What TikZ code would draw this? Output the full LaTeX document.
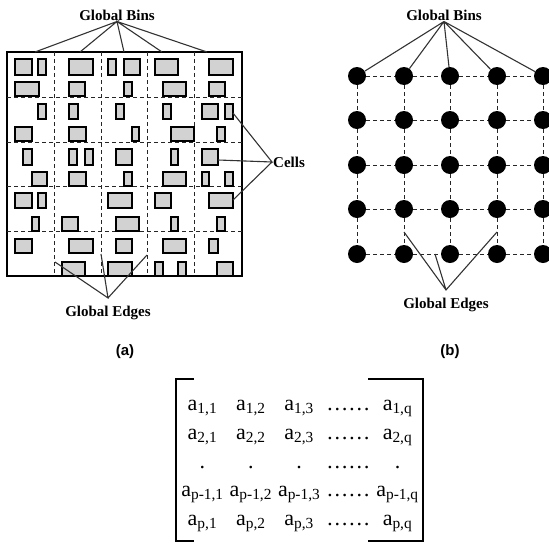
\documentclass[tikz,border=0pt]{standalone}
\usepackage{fontspec}
\setmainfont{Liberation Serif}
\newfontfamily\capfont{Liberation Sans}
\usetikzlibrary{matrix}

\begin{document}
\begin{tikzpicture}[
x=1pt, y=-1pt,
tag/.style={font=\bfseries\fontsize{15}{17}\selectfont, inner sep=1pt},
panel/.style={font=\capfont\bfseries\fontsize{15}{17}\selectfont},
cellbox/.style={draw=black, fill=gray!35, line width=1.5pt},
gridline/.style={gray!30!black, line width=0.9pt, dash pattern=on 4pt off 3pt},
leader/.style={black!80, line width=1.1pt},
binnode/.style={circle, fill=black, minimum size=18pt, inner sep=0pt},
bracket/.style={line width=2pt}
]
\useasboundingbox (0,0) rectangle (549,544);

% (a) placement with global bins
\node[draw, line width=1.6pt, minimum width=235pt, minimum height=224pt, inner sep=0pt] (chip) at (124.5,164) {};
\draw[gridline] (7,97) -- (242,97) (7,142) -- (242,142) (7,186) -- (242,186) (7,231) -- (242,231);
\draw[gridline] (54,52) -- (54,276) (101,52) -- (101,276) (147,52) -- (147,276) (194,52) -- (194,276);

\draw[cellbox] (15,59) rectangle (32,75) (38,59) rectangle (46,75) (69,59) rectangle (93,75) (108,59) rectangle (116,75) (124,59) rectangle (140,75) (155,59) rectangle (178,75) (209,59) rectangle (233,75);
\draw[cellbox] (15,82) rectangle (39,96) (69,82) rectangle (85,96) (124,82) rectangle (132,96) (163,82) rectangle (186,96) (209,82) rectangle (225,96);
\draw[cellbox] (38,104) rectangle (46,119) (69,104) rectangle (78,119) (116,104) rectangle (124,119) (163,104) rectangle (171,119) (202,104) rectangle (218,119) (225,104) rectangle (233,119);
\draw[cellbox] (15,127) rectangle (32,141) (69,127) rectangle (86,141) (132,127) rectangle (139,141) (171,127) rectangle (194,141) (217,127) rectangle (225,141);
\draw[cellbox] (23,149) rectangle (32,165) (69,149) rectangle (77,165) (85,149) rectangle (93,165) (116,149) rectangle (132,165) (171,149) rectangle (178,165) (202,149) rectangle (218,165);
\draw[cellbox] (32,172) rectangle (47,186) (69,172) rectangle (86,186) (124,172) rectangle (132,186) (163,172) rectangle (186,186) (202,172) rectangle (209,186) (225,172) rectangle (233,186);
\draw[cellbox] (15,193) rectangle (32,208) (38,193) rectangle (46,208) (108,193) rectangle (132,208) (155,193) rectangle (171,208) (209,193) rectangle (233,208);
\draw[cellbox] (32,217) rectangle (39,231) (62,217) rectangle (78,231) (116,217) rectangle (139,231) (171,217) rectangle (178,231) (217,217) rectangle (225,231);
\draw[cellbox] (15,239) rectangle (32,253) (69,239) rectangle (93,253) (116,239) rectangle (132,253) (163,239) rectangle (186,253) (209,239) rectangle (218,253);
\draw[cellbox] (62,262) rectangle (85,276) (108,262) rectangle (132,276) (155,262) rectangle (163,276) (178,262) rectangle (186,276) (217,262) rectangle (233,276);

\node[tag] (binsA) at (117,15) {Global Bins};
\node[tag, anchor=west] (cells) at (272,162) {Cells};
\node[tag] (edgesA) at (108,313) {Global Edges};
\node[panel] (capA) at (125,352) {(a)};

\coordinate (topA1) at (35,52);
\coordinate (topA2) at (80,52);
\coordinate (topA3) at (124,52);
\coordinate (topA4) at (162,52);
\coordinate (topA5) at (207,52);
\coordinate (cellA1) at (233,113);
\coordinate (cellA2) at (218,160);
\coordinate (cellA3) at (233,200);
\coordinate (edgeA1) at (55,262);
\coordinate (edgeA2) at (101,254);
\coordinate (edgeA3) at (147,255);

\draw[leader] (topA1) -- (binsA.south) -- (topA2) (topA3) -- (binsA.south) -- (topA4) (binsA.south) -- (topA5);
\draw[leader] (cellA1) -- (cells.west) -- (cellA2) (cells.west) -- (cellA3);
\draw[leader] (edgeA1) -- ([yshift=7pt]edgesA.north) -- (edgeA2) ([yshift=7pt]edgesA.north) -- (edgeA3);

% (b) bins as a graph
\node[binnode] (d11) at (357,76) {}; \node[binnode] (d12) at (404,76) {}; \node[binnode] (d13) at (450,76) {}; \node[binnode] (d14) at (497,76) {}; \node[binnode] (d15) at (543,76) {};
\node[binnode] (d21) at (357,120) {}; \node[binnode] (d22) at (404,120) {}; \node[binnode] (d23) at (450,120) {}; \node[binnode] (d24) at (497,120) {}; \node[binnode] (d25) at (543,120) {};
\node[binnode] (d31) at (357,165) {}; \node[binnode] (d32) at (404,165) {}; \node[binnode] (d33) at (450,165) {}; \node[binnode] (d34) at (497,165) {}; \node[binnode] (d35) at (543,165) {};
\node[binnode] (d41) at (357,209) {}; \node[binnode] (d42) at (404,209) {}; \node[binnode] (d43) at (450,209) {}; \node[binnode] (d44) at (497,209) {}; \node[binnode] (d45) at (543,209) {};
\node[binnode] (d51) at (357,254) {}; \node[binnode] (d52) at (404,254) {}; \node[binnode] (d53) at (450,254) {}; \node[binnode] (d54) at (497,254) {}; \node[binnode] (d55) at (543,254) {};

\draw[gridline] (d11) -- (d12) -- (d13) -- (d14) -- (d15);
\draw[gridline] (d21) -- (d22) -- (d23) -- (d24) -- (d25);
\draw[gridline] (d31) -- (d32) -- (d33) -- (d34) -- (d35);
\draw[gridline] (d41) -- (d42) -- (d43) -- (d44) -- (d45);
\draw[gridline] (d51) -- (d52) -- (d53) -- (d54) -- (d55);
\draw[gridline] (d11) -- (d21) -- (d31) -- (d41) -- (d51);
\draw[gridline] (d12) -- (d22) -- (d32) -- (d42) -- (d52);
\draw[gridline] (d13) -- (d23) -- (d33) -- (d43) -- (d53);
\draw[gridline] (d14) -- (d24) -- (d34) -- (d44) -- (d54);
\draw[gridline] (d15) -- (d25) -- (d35) -- (d45) -- (d55);

\node[tag] (binsB) at (444,15) {Global Bins};
\node[tag] (edgesB) at (446,305) {Global Edges};
\node[panel] (capB) at (450,352) {(b)};

\coordinate (edgeB1) at (404,232);
\coordinate (edgeB2) at (435,254);
\coordinate (edgeB3) at (497,232);

\draw[leader] (binsB.south) -- (d11) (binsB.south) -- (d12) (binsB.south) -- (d13) (binsB.south) -- (d14) (binsB.south) -- (d15);
\draw[leader] (edgeB1) -- ([yshift=7pt]edgesB.north) -- (edgeB3) ([yshift=7pt]edgesB.north) -- (edgeB2);

% bin matrix
\matrix (mat) [matrix of nodes, font=\fontsize{22}{26}\selectfont,
  nodes={anchor=base, inner sep=0pt, text height=15pt, text depth=5pt},
  row sep=8.75pt, column sep=6pt] at (300,463) {
a\textsubscript{1,1} & a\textsubscript{1,2} & a\textsubscript{1,3} & \ldots\ldots & a\textsubscript{1,q} \\
a\textsubscript{2,1} & a\textsubscript{2,2} & a\textsubscript{2,3} & \ldots\ldots & a\textsubscript{2,q} \\
. & . & . & \ldots\ldots & . \\
a\textsubscript{p-1,1} & a\textsubscript{p-1,2} & a\textsubscript{p-1,3} & \ldots\ldots & a\textsubscript{p-1,q} \\
a\textsubscript{p,1} & a\textsubscript{p,2} & a\textsubscript{p,3} & \ldots\ldots & a\textsubscript{p,q} \\
};

\coordinate (brTL) at (176,379);
\coordinate (brBL) at (176,541);
\coordinate (brTR) at (423,379);
\coordinate (brBR) at (423,541);
\draw[bracket] ([xshift=18pt]brTL) -- (brTL) -- (brBL) -- ([xshift=18pt]brBL);
\draw[bracket] ([xshift=-55pt]brTR) -- (brTR) -- (brBR) -- ([xshift=-55pt]brBR);

\end{tikzpicture}
\end{document}
